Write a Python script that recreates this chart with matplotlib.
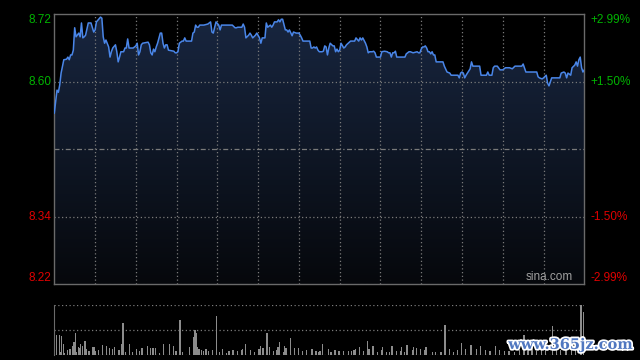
import numpy as np
import matplotlib.pyplot as plt
import matplotlib.patheffects as pe
from matplotlib.patches import Polygon
from matplotlib.colors import LinearSegmentedColormap

prev_close = 8.47
limit_pct = 0.0299
grid_pct = 0.015

# intraday minutes (0 = open, 390 = close) and last price
minutes = [0, 2, 3, 4, 5, 7, 9, 10, 11, 12, 13, 14, 15, 16, 18, 19, 20, 21, 22, 23,
           25, 27, 29, 30, 31, 34, 35, 36, 37, 38, 40, 41, 42, 43, 45, 46, 47, 48, 49, 51,
           52, 53, 54, 55, 58, 60, 61, 62, 63, 64, 65, 69, 70, 71, 72, 73, 74, 75, 76, 78,
           79, 80, 81, 82, 83, 84, 88, 89, 90, 91, 92, 94, 95, 96, 97, 101, 102, 103, 104, 105,
           106, 107, 110, 113, 115, 116, 117, 118, 119, 121, 122, 123, 131, 133, 134, 135, 138, 139, 140, 141,
           143, 144, 145, 146, 148, 149, 151, 152, 153, 155, 156, 157, 159, 160, 161, 162, 164, 165, 166, 167,
           168, 170, 171, 172, 173, 175, 176, 178, 180, 181, 182, 183, 188, 189, 190, 191, 192, 193, 194, 195,
           197, 198, 199, 200, 201, 202, 203, 205, 206, 207, 208, 209, 210, 211, 213, 214, 215, 218, 221, 222,
           224, 225, 226, 227, 229, 230, 231, 232, 234, 235, 236, 237, 240, 241, 243, 245, 246, 247, 248, 249,
           250, 251, 252, 258, 259, 261, 262, 264, 267, 268, 269, 270, 271, 272, 273, 274, 275, 276, 277, 278,
           279, 280, 281, 286, 287, 289, 291, 292, 297, 298, 299, 300, 301, 302, 303, 305, 306, 307, 308, 313,
           314, 318, 319, 320, 322, 323, 324, 326, 328, 330, 332, 335, 337, 339, 344, 345, 347, 355, 356, 357,
           359, 360, 362, 363, 364, 366, 372, 373, 375, 376, 377, 378, 380, 381, 383, 384, 385, 386, 387, 388,
           389, 390]
prices = [8.538, 8.581, 8.577, 8.591, 8.613, 8.638, 8.639, 8.643, 8.638, 8.647, 8.647, 8.656, 8.698, 8.681, 8.688, 8.681, 8.707, 8.679, 8.681, 8.684,
          8.707, 8.707, 8.690, 8.694, 8.709, 8.718, 8.716, 8.681, 8.669, 8.675, 8.662, 8.643, 8.653, 8.660, 8.666, 8.653, 8.634, 8.643, 8.653, 8.653,
          8.660, 8.660, 8.677, 8.660, 8.660, 8.664, 8.669, 8.647, 8.653, 8.666, 8.669, 8.671, 8.666, 8.651, 8.647, 8.658, 8.653, 8.662, 8.669, 8.688,
          8.688, 8.669, 8.660, 8.666, 8.666, 8.656, 8.654, 8.651, 8.651, 8.653, 8.669, 8.673, 8.673, 8.679, 8.673, 8.673, 8.688, 8.690, 8.703, 8.699,
          8.699, 8.703, 8.703, 8.705, 8.709, 8.690, 8.688, 8.699, 8.709, 8.703, 8.694, 8.703, 8.703, 8.698, 8.698, 8.699, 8.699, 8.705, 8.699, 8.679,
          8.684, 8.688, 8.684, 8.679, 8.684, 8.688, 8.679, 8.669, 8.679, 8.679, 8.707, 8.699, 8.703, 8.699, 8.703, 8.709, 8.709, 8.713, 8.709, 8.714,
          8.714, 8.694, 8.694, 8.690, 8.694, 8.683, 8.690, 8.688, 8.688, 8.684, 8.679, 8.673, 8.673, 8.660, 8.660, 8.662, 8.660, 8.662, 8.656, 8.653,
          8.653, 8.654, 8.664, 8.662, 8.647, 8.660, 8.669, 8.664, 8.664, 8.653, 8.658, 8.653, 8.656, 8.669, 8.660, 8.662, 8.666, 8.673, 8.673, 8.679,
          8.673, 8.679, 8.675, 8.679, 8.669, 8.662, 8.651, 8.653, 8.653, 8.654, 8.651, 8.643, 8.643, 8.653, 8.654, 8.653, 8.651, 8.651, 8.643, 8.651,
          8.651, 8.654, 8.643, 8.643, 8.649, 8.653, 8.653, 8.651, 8.653, 8.651, 8.651, 8.658, 8.662, 8.662, 8.664, 8.660, 8.653, 8.653, 8.649, 8.653,
          8.647, 8.647, 8.634, 8.634, 8.626, 8.615, 8.613, 8.609, 8.609, 8.604, 8.613, 8.615, 8.613, 8.604, 8.609, 8.617, 8.621, 8.634, 8.626, 8.626,
          8.609, 8.609, 8.615, 8.609, 8.609, 8.623, 8.626, 8.626, 8.619, 8.619, 8.623, 8.623, 8.621, 8.626, 8.626, 8.630, 8.615, 8.615, 8.606, 8.604,
          8.602, 8.604, 8.609, 8.594, 8.589, 8.604, 8.604, 8.613, 8.615, 8.613, 8.604, 8.613, 8.609, 8.623, 8.628, 8.634, 8.626, 8.638, 8.643, 8.623,
          8.615, 8.619]

# volume (relative units, 50 = top of the panel)
vol_minutes = [0, 2, 4, 5, 6, 7, 8, 10, 12, 14, 15, 16, 17, 18, 19, 20, 21, 23, 24, 26,
               29, 30, 31, 33, 36, 39, 41, 43, 45, 48, 50, 51, 53, 56, 58, 61, 63, 65, 69, 71,
               73, 75, 78, 81, 85, 88, 90, 93, 95, 100, 103, 104, 105, 106, 107, 109, 110, 112, 114, 117,
               120, 122, 124, 127, 129, 132, 135, 138, 139, 141, 145, 148, 151, 152, 154, 157, 159, 162, 164, 165,
               166, 169, 170, 171, 174, 177, 180, 183, 186, 190, 193, 195, 196, 198, 202, 204, 207, 210, 213, 217,
               219, 221, 222, 225, 228, 231, 232, 235, 238, 241, 242, 245, 247, 249, 252, 255, 256, 258, 260, 264,
               265, 267, 270, 273, 274, 279, 281, 285, 288, 291, 294, 297, 300, 303, 307, 311, 314, 318, 321, 325,
               328, 332, 335, 339, 343, 346, 349, 352, 355, 359, 362, 367, 370, 373, 377, 381, 384, 388, 390]
vol_values = [45, 20, 20, 3, 19, 11, 2, 5, 6, 9, 13, 22, 3, 8, 7, 11, 9, 14, 6, 4,
              8, 8, 4, 5, 10, 9, 7, 6, 8, 5, 11, 32, 3, 11, 3, 6, 4, 7, 9, 7,
              7, 7, 2, 11, 11, 9, 4, 35, 3, 8, 18, 25, 22, 8, 6, 5, 4, 6, 4, 5,
              39, 3, 6, 2, 4, 5, 4, 5, 6, 11, 5, 3, 6, 9, 7, 22, 8, 4, 5, 8,
              13, 3, 9, 7, 17, 7, 7, 4, 5, 6, 4, 3, 4, 11, 6, 3, 5, 4, 4, 4,
              4, 5, 6, 8, 4, 14, 6, 9, 3, 5, 8, 3, 3, 9, 4, 4, 8, 3, 10, 5,
              8, 7, 6, 5, 8, 3, 3, 3, 30, 6, 3, 5, 12, 6, 10, 6, 9, 5, 4, 9,
              5, 4, 4, 3, 5, 20, 8, 8, 4, 6, 6, 29, 8, 5, 6, 8, 5, 50, 43]

lo = prev_close * (1 - limit_pct)
hi = prev_close * (1 + limit_pct)
up_col = '#00b400'
dn_col = '#e00000'
grid_col = '#7a7a7a'
frame_col = '#6a6a6a'

fig = plt.figure(figsize=(6.4, 3.6), dpi=100, facecolor='#000000')
ax = fig.add_axes([54.3 / 640, 75.7 / 360, 530 / 640, 270 / 360])
ax.set_facecolor('#000000')
ax.set_xlim(0, 390)
ax.set_ylim(lo, hi)

# gradient fill below the price line
cmap = LinearSegmentedColormap.from_list('fill', ['#06080c', '#182640'])
grad = np.linspace(0, 1, 256).reshape(-1, 1)
im = ax.imshow(grad, extent=[0, 390, lo, hi], origin='lower', aspect='auto',
               cmap=cmap, zorder=1, interpolation='bilinear')
poly = Polygon(list(zip([minutes[0]] + minutes + [minutes[-1]], [lo] + prices + [lo])),
               closed=True, facecolor='none', edgecolor='none')
ax.add_patch(poly)
im.set_clip_path(poly)

for m in range(30, 390, 30):
    ax.axvline(m, color=grid_col, lw=0.9, ls=(0, (1, 2)), zorder=2)
for p in (prev_close * (1 + grid_pct), prev_close * (1 - grid_pct)):
    ax.axhline(p, color=grid_col, lw=0.9, ls=(0, (1, 2)), zorder=2)
ax.axhline(prev_close, color=grid_col, lw=0.9, ls=(0, (4, 2, 1, 2)), zorder=2)

ax.plot(minutes, prices, color='#4a86e8', lw=1.1, zorder=3)

ax.set_xticks([])
ax.set_yticks([])
for s in ax.spines.values():
    s.set_color(frame_col)
    s.set_linewidth(1)

ytr = ax.get_yaxis_transform()
levels = [(hi, limit_pct, 'top', up_col),
          (prev_close * (1 + grid_pct), grid_pct, 'center', up_col),
          (prev_close * (1 - grid_pct), -grid_pct, 'center', dn_col),
          (lo, -limit_pct, 'bottom', dn_col)]
for val, pct, va, col in levels:
    ax.text(-0.006, val, f'{val:.2f}', transform=ytr, ha='right', va=va,
            color=col, fontsize=8.5, family='Liberation Sans')
    ax.text(1.011, val, f'{pct * 100:+.2f}%', transform=ytr, ha='left', va=va,
            color=col, fontsize=8.5, family='Liberation Sans')

ax.text(0.978, 0.006, 'sina.com', transform=ax.transAxes, ha='right', va='bottom',
        color='#a0a0a0', fontsize=8.5, family='Liberation Sans')

# volume panel
vx = fig.add_axes([54.3 / 640, 5 / 360, 530 / 640, 50 / 360])
vx.set_facecolor('#000000')
vx.set_xlim(0, 390)
vx.set_ylim(0, 50)
vx.bar(vol_minutes, vol_values, width=-0.9, align='edge', color='#8c8c8c', zorder=2)
for lvl in (0, 25, 50):
    vx.axhline(lvl, color=grid_col, lw=0.9, ls=(0, (1, 2)), zorder=1)
vx.set_xticks([])
vx.set_yticks([])
for k in ('top', 'right', 'bottom'):
    vx.spines[k].set_visible(False)
vx.spines['left'].set_color(frame_col)

fig.text(0.989, 0.042, 'www.365jz.com', ha='right', va='center', fontsize=10.5,
         fontweight='bold', family='DejaVu Serif', color='#5077c0',
         path_effects=[pe.withStroke(linewidth=2.5, foreground='white')])

fig.savefig('out.png', dpi=100, facecolor=fig.get_facecolor())
